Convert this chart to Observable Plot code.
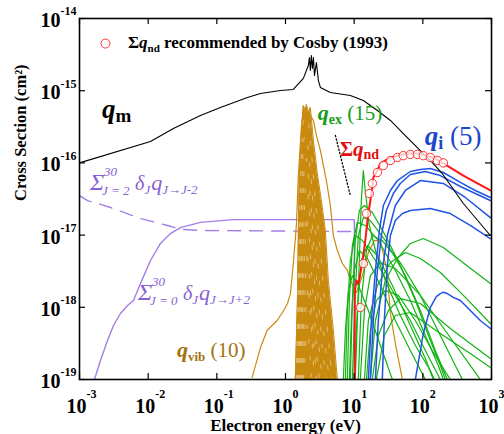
<!DOCTYPE html>
<html>
<head>
<meta charset="utf-8">
<script src="https://cdn.jsdelivr.net/npm/d3@7"></script>
<script src="https://cdn.jsdelivr.net/npm/@observablehq/plot@0.6"></script>
<style>
  html, body { margin: 0; padding: 0; background: #fff; }
  #chart svg { display: block; }
</style>
</head>
<body>
<div id="chart"></div>
<script>
// Electron–N2 cross sections: energy in eV, cross section in cm^2.

const xTicks = [1e-3, 1e-2, 1e-1, 1e0, 1e1, 1e2, 1e3];
const xExponents = ["-3", "-2", "-1", "0", "1", "2", "3"];
const yTicks = [1e-19, 1e-18, 1e-17, 1e-16, 1e-15, 1e-14];
const yExponents = ["-19", "-18", "-17", "-16", "-15", "-14"];

// momentum-transfer cross section q_m
const qm = [[0.001,1.0e-16],[0.0108,1.98e-16],[0.0233,2.99e-16],[0.0577,4.54e-16],[0.1127,5.85e-16],
  [0.279,8.05e-16],[0.432,9.15e-16],[0.843,1.007e-15],[1.30,1.04e-15],[1.82,1.48e-15],[2.15,2.23e-15],
  [2.23,2.88e-15],[2.30,1.90e-15],[2.38,3.07e-15],[2.46,2.03e-15],[2.55,2.88e-15],[2.64,1.62e-15],
  [2.82,2.46e-15],[3.01,1.39e-15],[3.22,1.11e-15],[4.50,9.44e-16],[8.8,8.59e-16],[13.6,7.31e-16],
  [21.8,5.32e-16],[33.7,3.87e-16],[52.0,2.55e-16],[83.2,1.63e-16],[128.5,1.08e-16],[192,7.13e-17],
  [389,2.74e-17],[962,9.87e-18]];

// rotational excitation J -> J+2 (summed) and de-excitation J -> J-2 (summed)
const rotUp = [[0.00165,1e-19],[0.00202,1.83e-19],[0.00256,3.47e-19],[0.00313,5.60e-19],[0.00395,8.2e-19],
  [0.0050,1.06e-18],[0.00611,1.24e-18],[0.00773,2.14e-18],[0.0108,4.45e-18],[0.0151,7.66e-18],
  [0.0211,1.05e-17],[0.0295,1.27e-17],[0.0577,1.50e-17],[0.1745,1.64e-17],[1.65,1.64e-17],
  [10.07,1.64e-17],[10.07,8e-20]];
const rotDown = [[0.001,3.53e-17],[0.00131,3.01e-17],[0.00283,2.41e-17],[0.00773,1.70e-17],
  [0.0191,1.36e-17],[0.0295,1.20e-17],[0.0577,1.16e-17],[10.07,1.12e-17]];

// vibrational excitation v = 1 (broad) and the resonant set
const vib1 = [[0.327,1.07e-19],[0.432,2.77e-19],[0.540,4.77e-19],[0.755,6.56e-19],[0.942,9.03e-19],
  [1.07,1.13e-18],[1.18,1.55e-18],[1.30,4.04e-18],[1.44,1.36e-17],[1.54,6.68e-17],[1.71,3.30e-16],
  [1.88,5.32e-16],[2.08,4.99e-16],[2.30,4.54e-16],[2.55,3.86e-16],[2.82,2.40e-16],[3.22,1.49e-16],
  [3.94,5.70e-17],[4.50,2.57e-17],[4.98,9.86e-18],[5.69,6.12e-18],[6.73,4.04e-18],[7.96,3.24e-18],
  [8.8,2.35e-18],[10.8,1.60e-18],[13.2,2.75e-18],[16.1,5.74e-18],[19.7,8.41e-18],[24.1,8.41e-18],
  [26.6,5.56e-18],[30.4,2.94e-18],[33.7,8.20e-19],[39.8,3.15e-19],[50.4,1e-19]];
const vibOuter = [[1.39,1e-19],[1.49,1.24e-18],[1.54,1.16e-17],[1.59,7.13e-17],[1.73,3.52e-16],
  [1.82,6.24e-16],[1.95,5.32e-16],[2.02,6.44e-16],[2.15,4.99e-16],[2.30,5.85e-16],[2.55,2.04e-16],
  [2.91,7.13e-17],[3.44,2.41e-17],[3.81,1.16e-17],[4.21,2.35e-18],[4.98,4.77e-19],[5.69,1e-19]];
const vibInner = [
  [[1.44,1e-19],[1.54,2.35e-18],[1.65,5.70e-17],[1.76,3.30e-16],[1.88,4.12e-16],[2.02,3.63e-16],[2.15,3.86e-16],[2.38,1.49e-16],[2.72,3.01e-17],[3.22,6.12e-18],[3.94,6.56e-19],[4.82,1e-19]],
  [[1.49,1e-19],[1.59,1.71e-18],[1.71,3.01e-17],[1.82,2.04e-16],[1.95,2.40e-16],[2.08,2.04e-16],[2.30,7.85e-17],[2.64,1.59e-17],[3.11,2.35e-18],[3.68,3.47e-19],[4.35,1e-19]],
  [[1.54,1e-19],[1.65,1.24e-18],[1.76,1.59e-17],[1.88,1.08e-16],[2.02,1.15e-16],[2.23,4.86e-17],[2.55,8.41e-18],[3.01,1.24e-18],[3.44,2.52e-19],[3.94,1e-19]],
  [[1.59,1e-19],[1.71,9.03e-19],[1.82,8.41e-18],[1.95,4.86e-17],[2.08,4.42e-17],[2.30,1.59e-17],[2.64,2.35e-18],[3.01,3.47e-19],[3.44,1e-19]],
  [[1.65,1e-19],[1.76,6.56e-19],[1.88,4.45e-18],[2.02,1.87e-17],[2.23,8.41e-18],[2.55,1.24e-18],[2.91,1.83e-19],[3.11,1e-19]],
  [[1.71,1e-19],[1.82,4.77e-19],[1.95,2.35e-18],[2.08,6.12e-18],[2.30,1.71e-18],[2.64,2.52e-19],[2.82,1e-19]],
  [[1.76,1e-19],[1.88,3.47e-19],[2.02,1.24e-18],[2.15,2.00e-18],[2.38,4.77e-19],[2.64,1e-19]],
  [[1.82,1e-19],[1.95,2.52e-19],[2.08,5.60e-19],[2.23,2.96e-19],[2.38,1e-19]]
];

// electronic excitation (15 states)
const excitation = [
  [[10.4,1e-19],[11.5,1.71e-18],[12.7,3.01e-17],[13.6,7.85e-17],[14.5,4.15e-17],[16.6,1.36e-17],[20.4,6.12e-18],[28.5,2.35e-18],[47.0,7.69e-19],[77.8,2.96e-19],[128.5,1.33e-19],[147,1e-19]],
  [[8.8,1e-19],[9.41,1.24e-18],[10.4,8.41e-18],[11.9,2.19e-17],[14.1,2.57e-17],[18.4,2.06e-17],[28.5,9.86e-18],[47.0,3.79e-18],[77.8,1.24e-18],[128.5,3.47e-19],[180,1.56e-19],[212,1e-19]],
  [[7.96,1e-19],[8.51,1.24e-18],[9.41,7.18e-18],[11.1,1.50e-17],[14.5,1.36e-17],[22.5,8.41e-18],[39.8,3.24e-18],[65.8,1.24e-18],[108.7,4.07e-19],[168,1.56e-19],[199,1e-19]],
  [[9.41,1e-19],[10.4,1.71e-18],[11.5,9.86e-18],[13.6,1.75e-17],[17.2,1.59e-17],[28.5,8.41e-18],[55.6,2.75e-18],[92.0,9.03e-19],[152,2.52e-19],[227,1e-19]],
  [[7.45,1e-19],[7.96,9.03e-19],[8.8,4.45e-18],[10.4,9.86e-18],[13.2,8.41e-18],[20.4,4.45e-18],[36.0,1.71e-18],[65.8,6.56e-19],[108.7,2.52e-19],[180,1e-19]],
  [[11.5,1e-19],[12.7,1.24e-18],[15.1,6.12e-18],[18.4,9.86e-18],[25.7,8.41e-18],[47.0,4.17e-18],[92.0,1.46e-18],[180,4.07e-19],[297,1.56e-19],[376,1e-19]],
  [[17.2,1e-19],[20.4,6.56e-19],[28.5,2.35e-18],[42.6,4.74e-18],[65.8,7.66e-18],[101.7,8.97e-18],[199,6.73e-18],[543,3.24e-18],[962,2.14e-18]],
  [[14.1,1e-19],[16.1,6.56e-19],[21.8,2.00e-18],[33.7,4.17e-18],[55.6,5.74e-18],[92.0,4.74e-18],[180,3.03e-18],[416,1.37e-18],[962,5.97e-19]],
  [[18.4,1e-19],[22.5,4.07e-19],[31.5,9.03e-19],[47.0,1.32e-18],[92.0,1.13e-18],[251,5.08e-19],[962,1.95e-19]],
  [[21.0,1e-19],[27.5,4.07e-19],[39.8,7.69e-19],[65.8,8.47e-19],[180,4.34e-19],[491,2.29e-19],[962,1.47e-19]],
  [[12.3,1e-19],[14.1,9.03e-19],[17.2,2.75e-18],[24.1,4.17e-18],[39.8,3.44e-18],[92.0,1.46e-18],[212,4.77e-19],[416,1.95e-19],[687,1e-19]],
  [[10.07,1e-19],[11.1,9.03e-19],[12.7,4.45e-18],[15.6,7.18e-18],[21.8,5.21e-18],[36.0,2.00e-18],[65.8,5.60e-19],[108.7,1.95e-19],[142,1e-19]],
  [[8.51,1e-19],[9.10,6.56e-19],[10.07,3.24e-18],[11.9,6.12e-18],[15.6,4.74e-18],[24.1,2.00e-18],[39.8,6.56e-19],[65.8,2.52e-19],[108.7,1e-19]],
  [[15.1,1e-19],[17.2,4.77e-19],[21.0,1.24e-18],[28.5,1.71e-18],[44.0,1.46e-18],[77.8,6.56e-19],[137,2.52e-19],[251,1e-19]],
  [[6.96,1e-19],[7.45,4.77e-19],[8.24,1.71e-18],[9.41,2.75e-18],[11.5,2.00e-18],[16.1,9.03e-19],[24.1,2.96e-19],[36.0,1e-19]]
];

// ionization (5 channels)
const ionization = [
  [[16.1,1e-19],[17.8,6.56e-19],[20.4,3.24e-18],[23.3,1.16e-17],[26.6,2.57e-17],[33.7,4.15e-17],[42.6,5.70e-17],[65.8,7.60e-17],[92.0,8.11e-17],[128.5,8.36e-17],[199,7.36e-17],[352,5.36e-17],[581,4.15e-17],[962,3.32e-17]],
  [[17.2,1e-19],[19.0,6.56e-19],[21.8,3.24e-18],[24.9,9.86e-18],[29.4,2.19e-17],[37.2,3.77e-17],[47.0,5.19e-17],[65.8,6.90e-17],[108.7,7.60e-17],[180,6.68e-17],[352,4.71e-17],[962,3.01e-17]],
  [[20.4,1e-19],[22.5,6.56e-19],[25.7,3.24e-18],[30.4,9.86e-18],[39.8,2.57e-17],[55.6,4.15e-17],[92.0,5.70e-17],[199,5.19e-17],[416,3.32e-17],[962,1.75e-17]],
  [[25.7,1e-19],[27.5,6.56e-19],[30.4,3.79e-18],[33.7,9.86e-18],[39.8,1.59e-17],[50.4,1.99e-17],[65.8,2.19e-17],[128.5,2.33e-17],[251,1.99e-17],[491,1.36e-17],[962,8.97e-18]],
  [[77.8,1e-19],[92.0,2.52e-19],[101.7,4.34e-19],[128.5,9.93e-19],[157,1.41e-18],[180,1.55e-18],[199,1.62e-18],[227,1.55e-18],[278,1.37e-18],[352,1.24e-18],[445,9.93e-19],[543,8.20e-19],[687,6.56e-19],[962,5.08e-19]]
];

// total neutral dissociation and the Cosby (1993) recommended values
const dissociation = [[10.2,8e-20],[10.2,1.71e-18],[10.8,2.35e-18],[11.5,2.14e-18],[12.3,2.94e-18],
  [13.6,5.21e-18],[14.5,8.41e-18],[16.1,1.99e-17],[18.4,4.56e-17],[19.0,6.28e-17],[21.8,7.85e-17],
  [24.1,9.82e-17],[33.7,1.19e-16],[59.4,1.35e-16],[92.0,1.35e-16],[152,1.15e-16],[199,9.82e-17],
  [389,6.68e-17],[962,4.15e-17]];
const cosbyE = [12.3,13.6,15.1,16.6,18.4,21.8,26.6,33.7,42.6,52.0,65.8,83.2,101.7,128.5,163,199];
const cosbyQ = [9.93e-19,4.04e-18,1.99e-17,3.77e-17,5.19e-17,7.36e-17,9.20e-17,1.08e-16,1.19e-16,
  1.26e-16,1.31e-16,1.31e-16,1.26e-16,1.19e-16,1.08e-16,1.0e-16];

// leader from the q_ex / Σq_nd labels toward the dissociation threshold
const leader = [[5.33,2.40e-16],[8.8,3.53e-17]];

// ---------------------------------------------------------------------------
const serif = "Liberation Serif, Times New Roman, DejaVu Serif, serif";
const C = {
  rot: "#a47ee8", rotText: "#8660d4",
  vib: "#c98a10", vibText: "#a5720c",
  ex: "#12b312", exText: "#169c16",
  ion: "#1f55e6", ionText: "#1c46cc",
  nd: "#ff1414", ndText: "#e01010"
};

const asRows = (curves, tag) =>
  curves.flatMap((c, i) => c.map(([x, y]) => ({x, y, id: tag + i})));
const one = (c, tag) => c.map(([x, y]) => ({x, y, id: tag}));
const cosby = cosbyE.map((x, i) => ({x, y: cosbyQ[i]}));

const W = 504, H = 434, mL = 79, mR = 13, mT = 18, mB = 55;
const innerW = W - mL - mR, innerH = H - mT - mB;
const tick = 6;
const bold = {fontFamily: serif, fontWeight: "bold", fill: "black"};

const chart = Plot.plot({
  width: W, height: H,
  marginLeft: mL, marginRight: mR, marginTop: mT, marginBottom: mB,
  x: {type: "log", domain: [1e-3, 1e3], axis: null},
  y: {type: "log", domain: [1e-19, 1e-14], axis: null},
  style: {fontFamily: serif, background: "white"},
  marks: [
    // rotational
    Plot.line(one(rotDown, "rd"), {x: "x", y: "y", stroke: C.rot, strokeWidth: 1.4, strokeDasharray: "13,9", clip: true}),
    Plot.line(one(rotUp, "ru"), {x: "x", y: "y", stroke: C.rot, strokeWidth: 1.4, clip: true}),
    // vibrational
    Plot.areaY(one(vibOuter, "vo"), {x: "x", y1: 1e-19, y2: "y", fill: C.vib, clip: true}),
    Plot.line(one(vibOuter, "vo"), {x: "x", y: "y", stroke: C.vib, strokeWidth: 1, clip: true}),
    Plot.line(asRows(vibInner, "vi"), {x: "x", y: "y", z: "id", stroke: "#fff4dc", strokeWidth: 0.8, strokeOpacity: 0.6, strokeDasharray: "4,13", clip: true}),
    Plot.line(one(vib1, "v1"), {x: "x", y: "y", stroke: C.vib, strokeWidth: 1.2, clip: true}),
    // electronic excitation
    Plot.line(asRows(excitation, "ex"), {x: "x", y: "y", z: "id", stroke: C.ex, strokeWidth: 1.2, clip: true}),
    // ionization
    Plot.line(asRows(ionization, "io"), {x: "x", y: "y", z: "id", stroke: C.ion, strokeWidth: 1.5, clip: true}),
    // momentum transfer
    Plot.line(one(qm, "qm"), {x: "x", y: "y", stroke: "black", strokeWidth: 1.1, clip: true}),
    // dissociation
    Plot.line(one(dissociation, "nd"), {x: "x", y: "y", stroke: C.nd, strokeWidth: 2, clip: true}),
    Plot.dot(cosby, {x: "x", y: "y", r: 4.2, stroke: "#ff3030", strokeWidth: 1, fill: "white", fillOpacity: 0.75}),
    Plot.line(one(leader, "ld"), {x: "x", y: "y", stroke: "black", strokeWidth: 1.3, strokeDasharray: "1.3,2.2"}),
    // legend swatch
    Plot.dot([{x: 0.00239, y: 4.5e-15}], {x: "x", y: "y", r: 4.5, stroke: "#ff3030", strokeWidth: 1, fill: "none"}),
    // frame and inward ticks
    Plot.frame({stroke: "black", strokeWidth: 1.6}),
    Plot.ruleX(xTicks, {x: d => d, insetTop: innerH - tick, stroke: "black", strokeWidth: 1.2}),
    Plot.ruleX(xTicks, {x: d => d, insetBottom: innerH - tick, stroke: "black", strokeWidth: 1.2}),
    Plot.ruleY(yTicks, {y: d => d, insetRight: innerW - tick, stroke: "black", strokeWidth: 1.2}),
    Plot.ruleY(yTicks, {y: d => d, insetLeft: innerW - tick, stroke: "black", strokeWidth: 1.2}),
    // tick labels: 10 with exponent
    Plot.text(xTicks, {x: d => d, frameAnchor: "bottom", text: () => "10", dx: -3, dy: 27, fontSize: 20, lineAnchor: "middle", ...bold}),
    Plot.text(xTicks, {x: d => d, frameAnchor: "bottom", text: (d, i) => xExponents[i], dx: 7, dy: 15, fontSize: 12, textAnchor: "start", lineAnchor: "middle", ...bold}),
    Plot.text(yTicks, {y: d => d, frameAnchor: "left", text: () => "10", dx: -19, dy: 2, fontSize: 20, textAnchor: "end", lineAnchor: "middle", ...bold}),
    Plot.text(yTicks, {y: d => d, frameAnchor: "left", text: (d, i) => yExponents[i], dx: -19, dy: -7, fontSize: 12, textAnchor: "start", lineAnchor: "middle", ...bold}),
    // axis titles
    Plot.text(["Electron energy (eV)"], {frameAnchor: "bottom", text: d => d, dy: 46, fontSize: 17, lineAnchor: "middle", ...bold}),
    Plot.text(["Cross Section (cm²)"], {frameAnchor: "left", text: d => d, rotate: -90, dx: -59, dy: 2, fontSize: 16.5, lineAnchor: "middle", ...bold})
  ]
});

document.getElementById("chart").appendChild(chart);

// ---------------------------------------------------------------------------
// Math-style annotations (sub/superscripts) placed through the chart scales.
const sx = chart.scale("x"), sy = chart.scale("y");
const layer = d3.select(chart).append("g")
  .attr("font-family", serif)
  .attr("text-anchor", "start");

function label(E, s, spans, base = {}) {
  const t = layer.append("text").attr("x", sx.apply(E)).attr("y", sy.apply(s));
  Object.entries(base).forEach(([k, v]) => t.attr(k, v));
  spans.forEach(sp => {
    const ts = t.append("tspan").text(sp.t);
    Object.entries(sp).forEach(([k, v]) => { if (k !== "t") ts.attr(k, v); });
  });
  return t;
}

// legend entry
label(0.00516, 3.84e-15, [
  {t: "Σ", "font-size": 17},
  {t: "q", "font-size": 17, "font-style": "italic"},
  {t: "nd", "font-size": 11, dy: 4},
  {t: " recommended by Cosby (1993)", "font-size": 17, dy: -4}
], {"font-weight": "bold", fill: "black"});

// q_m
label(0.00216, 4.12e-16, [
  {t: "q", "font-size": 27, "font-style": "italic"},
  {t: "m", "font-size": 19, dy: 4}
], {"font-weight": "bold", fill: "black"});

// q_ex (15)
label(3.01, 3.87e-16, [
  {t: "q", "font-size": 22, "font-style": "italic", "font-weight": "bold"},
  {t: "ex", "font-size": 14, "font-weight": "bold", dy: 4},
  {t: " (15)", "font-size": 21, dy: -4}
], {fill: C.exText});

// Σq_nd
label(6.30, 1.23e-16, [
  {t: "Σ", "font-size": 20},
  {t: "q", "font-size": 21, "font-style": "italic"},
  {t: "nd", "font-size": 14, dy: 3}
], {"font-weight": "bold", fill: C.ndText});

// q_i (5)
label(108.7, 1.74e-16, [
  {t: "q", "font-size": 27, "font-style": "italic", "font-weight": "bold"},
  {t: "i", "font-size": 18, "font-weight": "bold", dy: 4},
  {t: " (5)", "font-size": 27, dy: -4}
], {fill: C.ionText});

// q_vib (10)
label(0.0267, 2.02e-19, [
  {t: "q", "font-size": 22, "font-style": "italic", "font-weight": "bold"},
  {t: "vib", "font-size": 13, "font-weight": "bold", dy: 4},
  {t: " (10)", "font-size": 21, dy: -4}
], {fill: C.vibText});

// rotational sums with stacked limits
function rotLabel(E, s, lower, target) {
  const x0 = sx.apply(E), y0 = sy.apply(s);
  const g = layer.append("g").attr("fill", C.rotText).attr("font-style", "italic");
  g.append("text").attr("x", x0).attr("y", y0).attr("font-size", 24).text("Σ");
  g.append("text").attr("x", x0 + 14).attr("y", y0 - 14).attr("font-size", 13).text("30");
  g.append("text").attr("x", x0 + 12).attr("y", y0 + 5).attr("font-size", 13).text(lower);
  const t = g.append("text").attr("x", x0 + 45).attr("y", y0);
  t.append("tspan").attr("font-size", 20).text("δ");
  t.append("tspan").attr("font-size", 13).attr("dy", 4).text("J");
  t.append("tspan").attr("font-size", 22).attr("dy", -4).attr("dx", 1).text("q");
  t.append("tspan").attr("font-size", 13).attr("dy", 4).text(target);
}
rotLabel(0.00145, 4.15e-17, "J = 2", "J→J-2");
rotLabel(0.00723, 1.24e-18, "J = 0", "J→J+2");
</script>
</body>
</html>
